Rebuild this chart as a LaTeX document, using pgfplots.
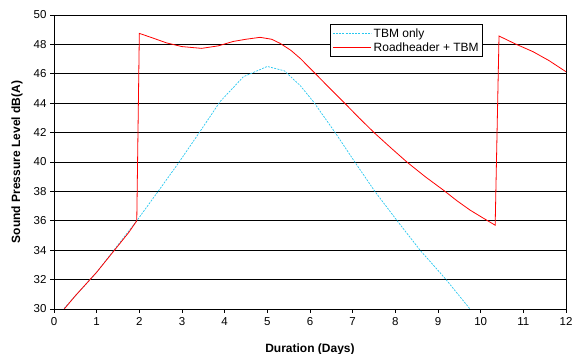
\documentclass[border=0pt]{standalone}
\usepackage{pgfplots}
\pgfplotsset{compat=1.18}
\usepackage{fontspec}
\setmainfont{Liberation Sans}
\definecolor{tbmcyan}{RGB}{40,200,240}
\begin{document}
\begin{tikzpicture}
\begin{axis}[
  scale only axis,
  width=512pt, height=294pt,
  xmin=0, xmax=12, ymin=30, ymax=50,
  xtick={0,1,...,12}, ytick={30,32,...,50},
  tick align=outside,
  tick pos=left,
  major tick length=4pt,
  tick style={black, line width=0.6pt},
  axis line style={black, line width=0.8pt},
  ymajorgrids,
  grid style={black, line width=0.6pt},
  /pgf/number format/assume math mode=true,
  tick label style={font=\fontsize{11.5}{13}\selectfont},
  xticklabel style={yshift=-1pt},
  xlabel={Duration (Days)},
  ylabel={Sound Pressure Level dB(A)},
  label style={font=\bfseries\fontsize{12}{14}\selectfont},
  xlabel style={at={(axis description cs:0.5,-0.136)}, anchor=center},
  ylabel style={at={(axis description cs:-0.072,0.5)}, anchor=center},
  legend style={at={(rel axis cs:0.838,0.969)}, anchor=north east,
    draw=black, line width=0.6pt, fill=white,
    font=\fontsize{12}{14}\selectfont, row sep=0pt, inner sep=2pt},
  legend cell align=left,
  legend image code/.code={\draw[#1] (0cm,0cm) -- (1.35cm,0cm);},
]
\addplot[tbmcyan, dashed, dash pattern=on 2pt off 1.2pt, line width=0.7pt] coordinates {
(0.24,30.05)(1.0,32.5)(1.43,34.1)(1.94,36.0)(2.44,38.0)(2.91,39.9)(3.42,42.06)(3.89,44.1)(4.44,45.8)(5.0,46.5)(5.4,46.2)(5.77,45.2)(6.08,44.1)(6.59,42.0)(7.05,40.0)(7.52,38.0)(8.03,36.05)(8.58,34.0)(9.16,32.1)(9.75,30.0)
};
\addlegendentry{TBM only}
\addplot[red, line width=0.8pt] coordinates {
(0.24,30.0)(0.5,30.9)(0.75,31.7)(1.0,32.5)(1.25,33.4)(1.5,34.3)(1.75,35.2)(1.94,36.0)(2.0,48.75)(2.3,48.45)(2.64,48.1)(3.0,47.85)(3.46,47.73)(3.85,47.9)(4.2,48.2)(4.5,48.35)(4.83,48.48)(5.1,48.35)(5.3,48.07)(5.55,47.6)(5.77,47.05)(6.12,46.03)(6.45,45.05)(6.78,44.1)(7.15,43.0)(7.52,41.95)(7.9,40.95)(8.27,40.0)(8.7,39.0)(9.12,38.1)(9.45,37.35)(9.75,36.73)(10.05,36.2)(10.34,35.7)(10.43,48.57)(10.8,48.05)(11.23,47.5)(11.6,46.9)(12.0,46.14)
};
\addlegendentry{Roadheader + TBM}
\end{axis}
\pgfresetboundingbox
\path[use as bounding box] ([shift={(-54pt,-45pt)}]current axis.south west) rectangle ([shift={(7pt,15pt)}]current axis.north east);
\end{tikzpicture}
\end{document}
